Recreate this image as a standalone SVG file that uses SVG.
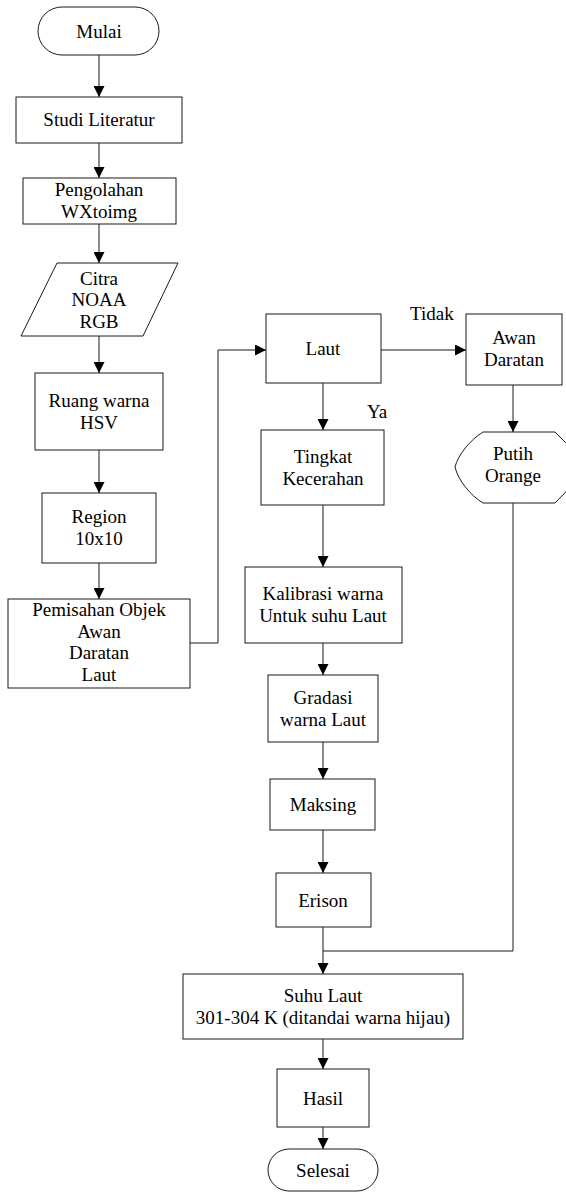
<svg xmlns="http://www.w3.org/2000/svg" width="566" height="1192" viewBox="0 0 566 1192" font-family="'Liberation Serif', 'Times New Roman', Times, 'DejaVu Serif', serif" font-size="19">
<defs>
<marker id="arr" viewBox="0 0 10 10" refX="10" refY="5" markerWidth="11" markerHeight="11" markerUnits="userSpaceOnUse" orient="auto">
<path d="M0,0 L10,5 L0,10 Z" fill="#000"/>
</marker>
</defs>
<style>
.box{fill:#fff;stroke:#1a1a1a;stroke-width:1}
.ln{fill:none;stroke:#1a1a1a;stroke-width:1}
.ar{fill:none;stroke:#1a1a1a;stroke-width:1;marker-end:url(#arr)}
text{fill:#000;text-anchor:middle}
.lab{text-anchor:start}
</style>
<rect width="566" height="1192" fill="#fff"/>
<g id="connectors">
<line class="ar" x1="99" y1="55" x2="99" y2="97"/>
<line class="ar" x1="99" y1="143" x2="99" y2="178"/>
<line class="ar" x1="99" y1="224" x2="99" y2="263"/>
<line class="ar" x1="99" y1="336" x2="99" y2="373"/>
<line class="ar" x1="99" y1="450" x2="99" y2="493"/>
<line class="ar" x1="99" y1="563" x2="99" y2="599"/>
<polyline class="ar" points="190,643 218,643 218,350 266,350"/>
<line class="ar" x1="381" y1="350" x2="466" y2="350"/>
<line class="ar" x1="323" y1="383" x2="323" y2="430"/>
<line class="ar" x1="513" y1="385" x2="513" y2="432"/>
<line class="ar" x1="323" y1="505" x2="323" y2="567"/>
<line class="ar" x1="323" y1="643" x2="323" y2="675"/>
<line class="ar" x1="323" y1="742" x2="323" y2="779"/>
<line class="ar" x1="323" y1="830" x2="323" y2="873"/>
<polyline class="ln" points="513,503 513,951 323,951"/>
<line class="ar" x1="323" y1="927" x2="323" y2="974"/>
<line class="ar" x1="323" y1="1039" x2="323" y2="1069"/>
<line class="ar" x1="323" y1="1127" x2="323" y2="1149"/>
<text class="lab" x="410" y="320">Tidak</text>
<text class="lab" x="367" y="418">Ya</text>
</g>
<g id="mulai">
<rect class="box" x="38" y="7" width="121" height="48" rx="24" ry="24"/>
<text x="99" y="38">Mulai</text>
</g>
<g id="studi">
<rect class="box" x="16" y="97" width="166" height="46"/>
<text x="99" y="126">Studi Literatur</text>
</g>
<g id="pengolahan">
<rect class="box" x="23" y="178" width="153" height="46"/>
<text x="99" y="196">Pengolahan</text>
<text x="99" y="218">WXtoimg</text>
</g>
<g id="citra">
<polygon class="box" points="57,263 178,263 143,336 21,336"/>
<text x="99" y="285">Citra</text>
<text x="99" y="306">NOAA</text>
<text x="99" y="328">RGB</text>
</g>
<g id="ruang">
<rect class="box" x="35" y="373" width="128" height="77"/>
<text x="99" y="407">Ruang warna</text>
<text x="99" y="429">HSV</text>
</g>
<g id="region">
<rect class="box" x="42" y="493" width="114" height="70"/>
<text x="99" y="523">Region</text>
<text x="99" y="545">10x10</text>
</g>
<g id="pemisahan">
<rect class="box" x="8" y="599" width="182" height="89"/>
<text x="99" y="616">Pemisahan Objek</text>
<text x="99" y="637.5">Awan</text>
<text x="99" y="659">Daratan</text>
<text x="99" y="680.5">Laut</text>
</g>
<g id="laut">
<rect class="box" x="266" y="314" width="115" height="69"/>
<text x="323" y="355">Laut</text>
</g>
<g id="awan">
<rect class="box" x="466" y="314" width="96" height="71"/>
<text x="514" y="344">Awan</text>
<text x="514" y="366">Daratan</text>
</g>
<g id="putih">
<path class="box" d="M483,432 L555,432 L590,467 L555,503 L483,503 C470,495 458,480 455,467 C458,455 470,440 483,432 Z"/>
<text x="513" y="460">Putih</text>
<text x="513" y="482">Orange</text>
</g>
<g id="tingkat">
<rect class="box" x="261" y="430" width="123" height="75"/>
<text x="323" y="463">Tingkat</text>
<text x="323" y="485">Kecerahan</text>
</g>
<g id="kalibrasi">
<rect class="box" x="245" y="567" width="157" height="76"/>
<text x="323" y="600">Kalibrasi warna</text>
<text x="323" y="622">Untuk suhu Laut</text>
</g>
<g id="gradasi">
<rect class="box" x="268" y="675" width="110" height="67"/>
<text x="323" y="704">Gradasi</text>
<text x="323" y="726">warna Laut</text>
</g>
<g id="maksing">
<rect class="box" x="270" y="779" width="105" height="51"/>
<text x="323" y="811">Maksing</text>
</g>
<g id="erison">
<rect class="box" x="276" y="873" width="95" height="54"/>
<text x="323" y="906.5">Erison</text>
</g>
<g id="suhu">
<rect class="box" x="183" y="974" width="280" height="65"/>
<text x="323" y="1002">Suhu Laut</text>
<text x="323" y="1024">301-304 K (ditandai warna hijau)</text>
</g>
<g id="hasil">
<rect class="box" x="277" y="1069" width="92" height="58"/>
<text x="323" y="1104.5">Hasil</text>
</g>
<g id="selesai">
<rect class="box" x="268" y="1149" width="110" height="42" rx="21" ry="21"/>
<text x="323" y="1177">Selesai</text>
</g>
</svg>
